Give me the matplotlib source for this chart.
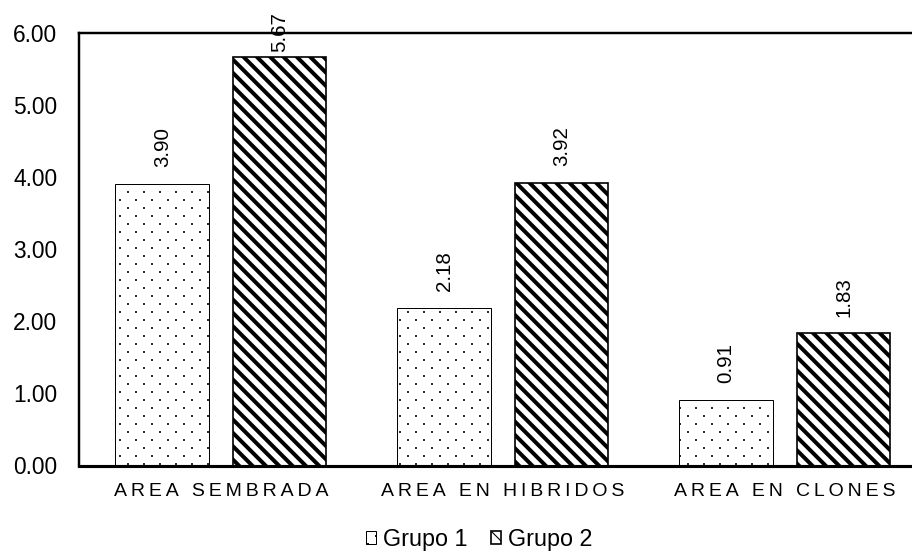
import numpy as np
import matplotlib
matplotlib.use('Agg')
import matplotlib.pyplot as plt
from matplotlib import hatch as mhatch
from matplotlib.path import Path

categories = ['AREA SEMBRADA', 'AREA EN HIBRIDOS', 'AREA EN CLONES']
series_names = ['Grupo 1', 'Grupo 2']
grupo1 = [3.90, 2.18, 0.91]
grupo2 = [5.67, 3.92, 1.83]
yticks = [0, 1, 2, 3, 4, 5, 6]


class StaggeredDots(mhatch.HatchPatternBase):
    # sparse staggered dots (like the Excel 5% pattern), replaces the '.' hatch
    def __init__(self, hatch, density):
        self.cols = 5 if '.' in hatch else 0
        self.rows = 2 * self.cols
        n = self.cols
        self.num_vertices = ((n + 1) ** 2 + n ** 2) * 5 if n else 0

    def set_vertices_and_codes(self, vertices, codes):
        n = self.cols
        h = 0.005
        square = np.array([[-h, -h], [h, -h], [h, h], [-h, h], [-h, -h]])
        parts = []
        for k in range(self.rows + 1):
            if k % 2 == 0:
                xs = np.arange(n + 1) / n
            else:
                xs = (np.arange(n) + 0.5) / n
            for x in xs:
                parts.append(square + [x, k / self.rows])
        vertices[:] = np.concatenate(parts)
        codes[:] = np.tile([Path.MOVETO, Path.LINETO, Path.LINETO,
                            Path.LINETO, Path.CLOSEPOLY], len(parts))


mhatch._hatch_types = [StaggeredDots if t is mhatch.SmallFilledCircles else t
                       for t in mhatch._hatch_types]

plt.rcParams['font.family'] = ['Liberation Sans', 'DejaVu Sans']

dpi = 80
fig = plt.figure(figsize=(912 / dpi, 552 / dpi), dpi=dpi)
ax = fig.add_axes([79 / 912, 86.5 / 552, 846 / 912, 432.8 / 552])

x = np.arange(len(categories))
width = 0.333
offset = 0.208


def make_bars(vals, pos, hatch, lw, hatch_lw):
    with plt.rc_context({'hatch.linewidth': hatch_lw}):
        bars = ax.bar(pos, vals, width, color='white', edgecolor='black',
                      linewidth=lw, hatch=hatch)
    for b in bars:
        if hasattr(b, 'set_hatch_linewidth'):
            b.set_hatch_linewidth(hatch_lw)
    return bars


bars1 = make_bars(grupo1, x - offset, '.', 0.9, 0.9)
bars2 = make_bars(grupo2, x + offset, '\\\\', 1.5, 3.6)

# value labels, rotated, kept inside the chart area
label_gap = 0.235
label_cap = 5.73
for pos, vals in [(x - offset, grupo1), (x + offset, grupo2)]:
    for xi, v in zip(pos, vals):
        ax.text(xi, min(v + label_gap, label_cap), '%.2f' % v, rotation=90,
                ha='center', va='bottom', fontsize=18.5, color='black')

ax.set_xlim(-0.503, 2.497)
ax.set_ylim(0, 6)
ax.set_yticks(yticks)
ax.set_yticklabels(['%.2f' % t for t in yticks], fontsize=20.5)
ax.set_xticks(x)
# letter spaced category names
ax.set_xticklabels(['\u2009'.join(c) for c in categories], fontsize=17.5)
ax.tick_params(axis='y', length=0, pad=19.5)
ax.tick_params(axis='x', length=0, pad=15.5)

ax.spines['right'].set_visible(False)
for s in ['left', 'top']:
    ax.spines[s].set_linewidth(2.2)
ax.spines['bottom'].set_linewidth(2.8)

fig.legend([bars1, bars2], series_names, loc='lower center',
           bbox_to_anchor=(0.525, 0.002), ncol=2, frameon=False, fontsize=21,
           handlelength=0.43, handleheight=0.43, handletextpad=0.3,
           columnspacing=1.0, borderpad=0, borderaxespad=0)

fig.savefig('out.png', dpi=dpi)
